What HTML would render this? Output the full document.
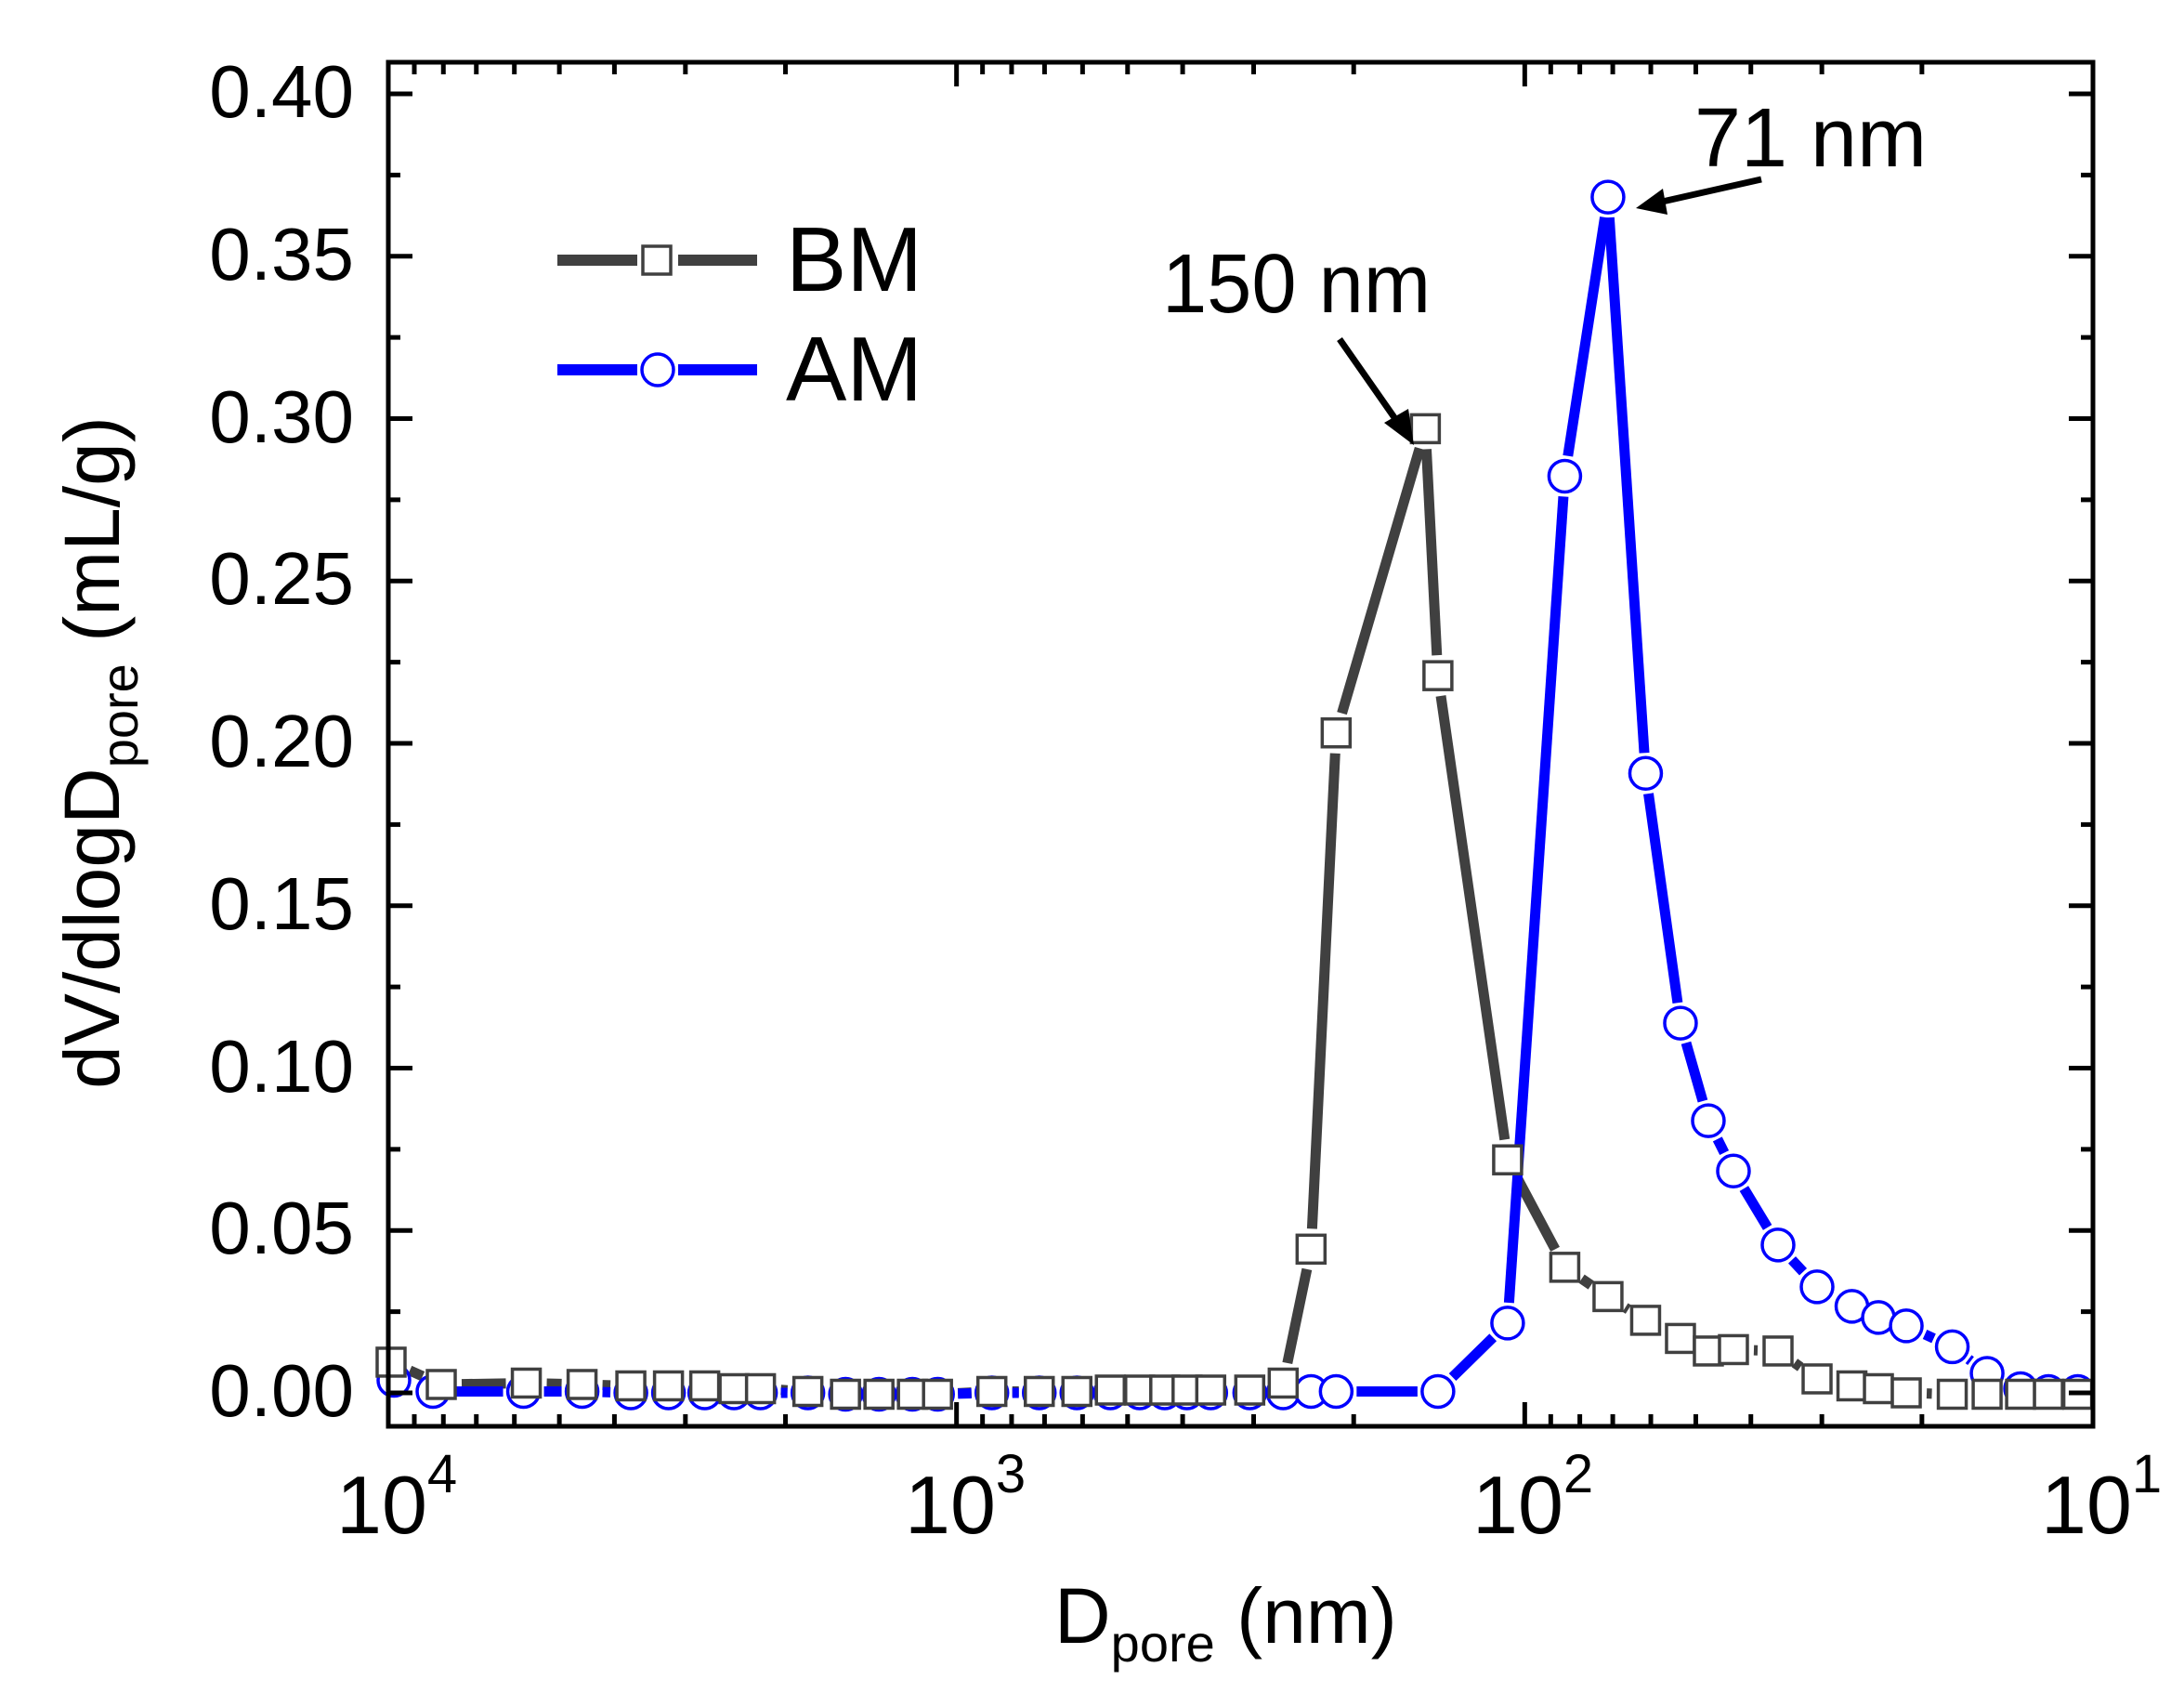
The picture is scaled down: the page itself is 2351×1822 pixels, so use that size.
<!DOCTYPE html>
<html><head><meta charset="utf-8"><style>
html,body{margin:0;padding:0;background:#fff}
svg{display:block}
text{font-family:"Liberation Sans",Arial,sans-serif}
</style></head><body>
<svg id="s" width="2351" height="1822" viewBox="0 0 2351 1822" xmlns="http://www.w3.org/2000/svg">
<rect width="2351" height="1822" fill="#fff"/>
<g id="data"></g>
<g id="ticks" stroke="#000" stroke-width="5"></g>
<rect x="418" y="67" width="1835" height="1468" fill="none" stroke="#000" stroke-width="5"/>
<g font-size="80" text-anchor="end" fill="#000">
<text x="381" y="126">0.40</text>
<text x="381" y="301">0.35</text>
<text x="381" y="476">0.30</text>
<text x="381" y="650">0.25</text>
<text x="381" y="825">0.20</text>
<text x="381" y="1000">0.15</text>
<text x="381" y="1175">0.10</text>
<text x="381" y="1349">0.05</text>
<text x="381" y="1524">0.00</text>
</g>
<g font-size="88" fill="#000">
<text x="362" y="1650">10<tspan font-size="58" dy="-44">4</tspan></text>
<text x="974" y="1650">10<tspan font-size="58" dy="-44">3</tspan></text>
<text x="1585" y="1650">10<tspan font-size="58" dy="-44">2</tspan></text>
<text x="2197" y="1650">10<tspan font-size="58" dy="-44">1</tspan></text>
</g>
<text x="1135" y="1768" font-size="84">D<tspan font-size="56" dy="20">pore</tspan><tspan dy="-20"> (nm)</tspan></text>
<text transform="translate(128,810) rotate(-90)" text-anchor="middle" font-size="84">dV/dlogD<tspan font-size="56" dy="20">pore</tspan><tspan dy="-20"> (mL/g)</tspan></text>
<!-- legend -->
<line x1="600" y1="280" x2="686" y2="280" stroke="#404040" stroke-width="12"/>
<line x1="730" y1="280" x2="815" y2="280" stroke="#404040" stroke-width="12"/>
<rect x="692" y="265" width="30" height="30" fill="#fff" stroke="#404040" stroke-width="3.5"/>
<line x1="600" y1="398" x2="686" y2="398" stroke="#0000ff" stroke-width="12"/>
<line x1="730" y1="398" x2="815" y2="398" stroke="#0000ff" stroke-width="12"/>
<circle cx="708" cy="398" r="17" fill="#fff" stroke="#0000ff" stroke-width="3.5"/>
<text x="846" y="313" font-size="98">BM</text>
<text x="846" y="431" font-size="98">AM</text>
<!-- annotations -->
<text x="1251" y="336" font-size="90" textLength="289" lengthAdjust="spacingAndGlyphs">150 nm</text>
<text x="1824" y="179" font-size="90" textLength="250" lengthAdjust="spacingAndGlyphs">71 nm</text>
<line x1="1442" y1="365" x2="1507" y2="458" stroke="#000" stroke-width="7"/>
<polygon points="1522,479 1490,455 1516,440" fill="#000"/>
<line x1="1896" y1="193" x2="1785" y2="218" stroke="#000" stroke-width="7"/>
<polygon points="1761,224 1790,203 1795,231" fill="#000"/>
</svg>
<script>
var NS="http://www.w3.org/2000/svg";
function el(t,a,p){var e=document.createElementNS(NS,t);for(var k in a)e.setAttribute(k,a[k]);p.appendChild(e);return e;}
var tk=document.getElementById('ticks');
var L=418,R=2253,T=67,B=1535;
for(var i=0;i<=16;i++){var v=i*0.025;var y=1499-v/0.05*174.75;if(y<T+2)continue;var len=(i%2==0)?26:13;
 el('line',{x1:L,y1:y,x2:L+len,y2:y},tk);el('line',{x1:R,y1:y,x2:R-len,y2:y},tk);}
var dec=(R-L)/3;
for(var d=0;d<3;d++){for(var m=1;m<=10;m++){var lg=4-d-1+Math.log10(m);var x=L+(4-lg)*dec;if(m==1&&d<2)continue;
 var len=(m==1||m==10)?26:13;el('line',{x1:x,y1:B,x2:x,y2:B-len},tk);el('line',{x1:x,y1:T,x2:x,y2:T+len},tk);}}
function cv(p){return p.map(function(q){return [418+(q[0]-279)*1.5005,101+(q[1]-68)*1.5016];});}
var bm=cv([[281,977],[317,993],[378,992],[418,993],[453,994],[480,994],[506,994],[527,996],[546,996],[580,998],[607,1000],[631,1000],[655,1000],[673,1000],[712,998],[746,998],[773,998],[797,997],[818,997],[836,997],[852,997],[869,997],[897,997],[921,992],[941,896],[959,526],[1023,308],[1032,485],[1082,832],[1123,909],[1154,930],[1181,947],[1206,960],[1226,969],[1244,968],[1276,969],[1304,989],[1329,994],[1348,996],[1368,999],[1401,1000],[1426,1000],[1450,1000],[1470,1000],[1491,1000]]);
var am=cv([[283,990],[311,998],[376,998],[418,998],[453,999],[480,999],[506,999],[527,999],[546,999],[580,999],[607,1000],[631,1000],[655,1000],[673,1000],[712,999],[746,999],[773,999],[797,999],[818,999],[836,999],[852,999],[869,999],[897,999],[921,999],[941,998],[959,998],[1032,998],[1082,949],[1123,342],[1154,142],[1181,555],[1206,734],[1226,804],[1244,840],[1276,893],[1304,923],[1329,937],[1348,945],[1368,951],[1401,966],[1426,985],[1450,996],[1470,998],[1491,998]]);
var g=document.getElementById('data');
function lines(p,c,w,gap){for(var i=0;i<p.length-1;i++){var a=p[i],b=p[i+1];var dx=b[0]-a[0],dy=b[1]-a[1];var l=Math.hypot(dx,dy);if(l<=2*gap)continue;var ux=dx/l,uy=dy/l;
 el('line',{x1:a[0]+ux*gap,y1:a[1]+uy*gap,x2:b[0]-ux*gap,y2:b[1]-uy*gap,stroke:c,'stroke-width':w},g);}}
lines(bm,'#404040',11,22);lines(am,'#0000ff',11,22);
am.forEach(function(q){el('circle',{cx:q[0],cy:q[1],r:17,fill:'#fff',stroke:'#0000ff','stroke-width':3.5},g);});
bm.forEach(function(q){el('rect',{x:q[0]-15,y:q[1]-15,width:30,height:30,fill:'#fff',stroke:'#404040','stroke-width':3.5},g);});
</script>
</body></html>
